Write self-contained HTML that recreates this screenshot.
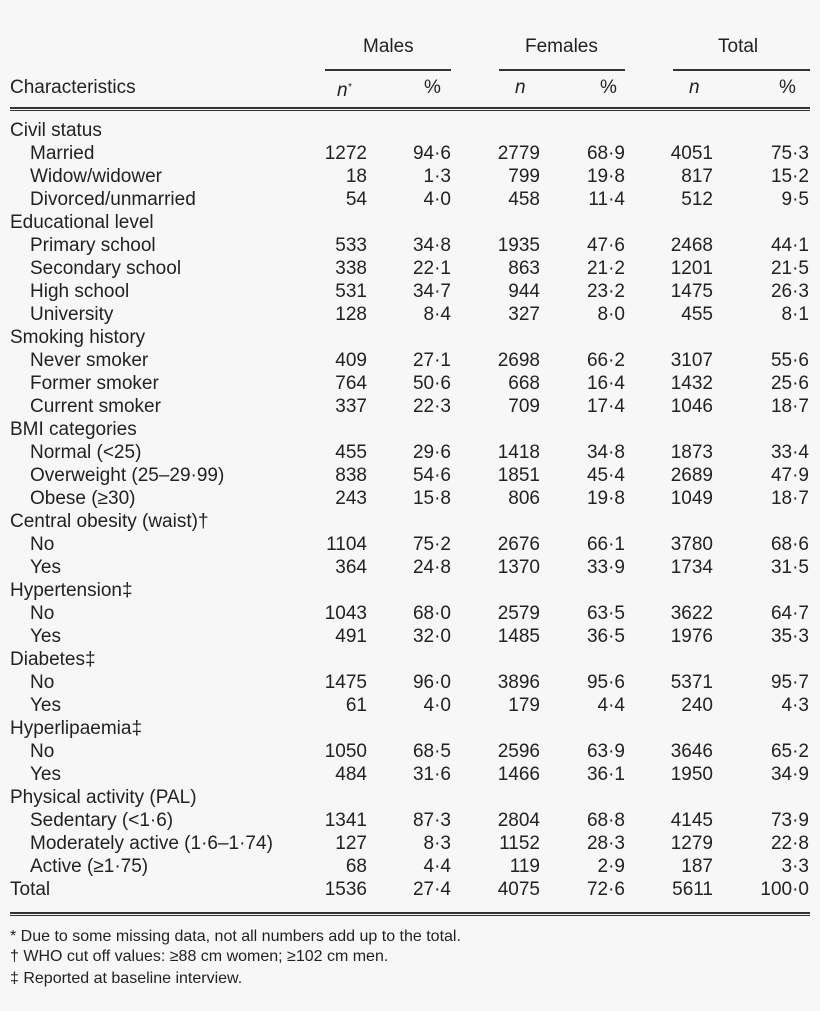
<!DOCTYPE html>
<html><head><meta charset="utf-8"><style>
body{margin:0;background:#f7f7f7;}
#p{position:relative;width:820px;height:1011px;background:#f7f7f7;font-family:"Liberation Sans",Arial,sans-serif;color:#222;font-size:19px;overflow:hidden}
.t{position:absolute;white-space:nowrap;line-height:20px;height:20px}
.r{text-align:right}
.l{position:absolute;background:#333}
.f{font-size:16px;position:absolute;white-space:nowrap;line-height:18px;left:10px}
</style></head><body><div id="p">
<div class="t" style="left:363px;top:37px">Males</div>
<div class="t" style="left:525px;top:37px">Females</div>
<div class="t" style="left:718px;top:37px">Total</div>
<div class="l" style="left:325px;top:69px;width:126px;height:2px"></div>
<div class="l" style="left:499px;top:69px;width:126px;height:2px"></div>
<div class="l" style="left:673px;top:69px;width:137px;height:2px"></div>
<div class="t" style="left:10px;top:78px">Characteristics</div>
<div class="t" style="left:337px;top:78px;font-style:italic">n<sup style="font-size:10px;vertical-align:6px">*</sup></div>
<div class="t" style="left:424px;top:78px">%</div>
<div class="t" style="left:515px;top:78px;font-style:italic">n</div>
<div class="t" style="left:600px;top:78px">%</div>
<div class="t" style="left:689px;top:78px;font-style:italic">n</div>
<div class="t" style="left:779px;top:78px">%</div>
<div class="l" style="left:10px;top:107px;width:800px;height:2px"></div>
<div class="l" style="left:10px;top:110px;width:800px;height:1px"></div>
<div id="rows"></div>
<div class="l" style="left:10px;top:912px;width:800px;height:2px"></div>
<div class="l" style="left:10px;top:915px;width:800px;height:1px"></div>
<div class="f" style="top:928px">* Due to some missing data, not all numbers add up to the total.</div>
<div class="f" style="top:948px">† WHO cut off values: ≥88 cm women; ≥102 cm men.</div>
<div class="f" style="top:970px">‡ Reported at baseline interview.</div>
<script>
var R=[
["Civil status"],["Married","1272","94·6","2779","68·9","4051","75·3"],["Widow/widower","18","1·3","799","19·8","817","15·2"],["Divorced/unmarried","54","4·0","458","11·4","512","9·5"],
["Educational level"],["Primary school","533","34·8","1935","47·6","2468","44·1"],["Secondary school","338","22·1","863","21·2","1201","21·5"],["High school","531","34·7","944","23·2","1475","26·3"],["University","128","8·4","327","8·0","455","8·1"],
["Smoking history"],["Never smoker","409","27·1","2698","66·2","3107","55·6"],["Former smoker","764","50·6","668","16·4","1432","25·6"],["Current smoker","337","22·3","709","17·4","1046","18·7"],
["BMI categories"],["Normal (<25)","455","29·6","1418","34·8","1873","33·4"],["Overweight (25–29·99)","838","54·6","1851","45·4","2689","47·9"],["Obese (≥30)","243","15·8","806","19·8","1049","18·7"],
["Central obesity (waist)†"],["No","1104","75·2","2676","66·1","3780","68·6"],["Yes","364","24·8","1370","33·9","1734","31·5"],
["Hypertension‡"],["No","1043","68·0","2579","63·5","3622","64·7"],["Yes","491","32·0","1485","36·5","1976","35·3"],
["Diabetes‡"],["No","1475","96·0","3896","95·6","5371","95·7"],["Yes","61","4·0","179","4·4","240","4·3"],
["Hyperlipaemia‡"],["No","1050","68·5","2596","63·9","3646","65·2"],["Yes","484","31·6","1466","36·1","1950","34·9"],
["Physical activity (PAL)"],["Sedentary (<1·6)","1341","87·3","2804","68·8","4145","73·9"],["Moderately active (1·6–1·74)","127","8·3","1152","28·3","1279","22·8"],["Active (≥1·75)","68","4·4","119","2·9","187","3·3"],
["Total","1536","27·4","4075","72·6","5611","100·0"]];
var E=[367,451,540,625,713,809],h="";
R.forEach(function(r,i){var y=131+23*i-10;var ind=(r.length>1&&i!=R.length-1)?30:10;
h+='<div class="t" style="left:'+ind+'px;top:'+y+'px">'+r[0]+'</div>';
for(var j=1;j<r.length;j++)h+='<div class="t r" style="left:'+(E[j-1]-80)+'px;width:80px;top:'+y+'px">'+r[j]+'</div>';});
document.getElementById("rows").innerHTML=h;
</script>
</div></body></html>
